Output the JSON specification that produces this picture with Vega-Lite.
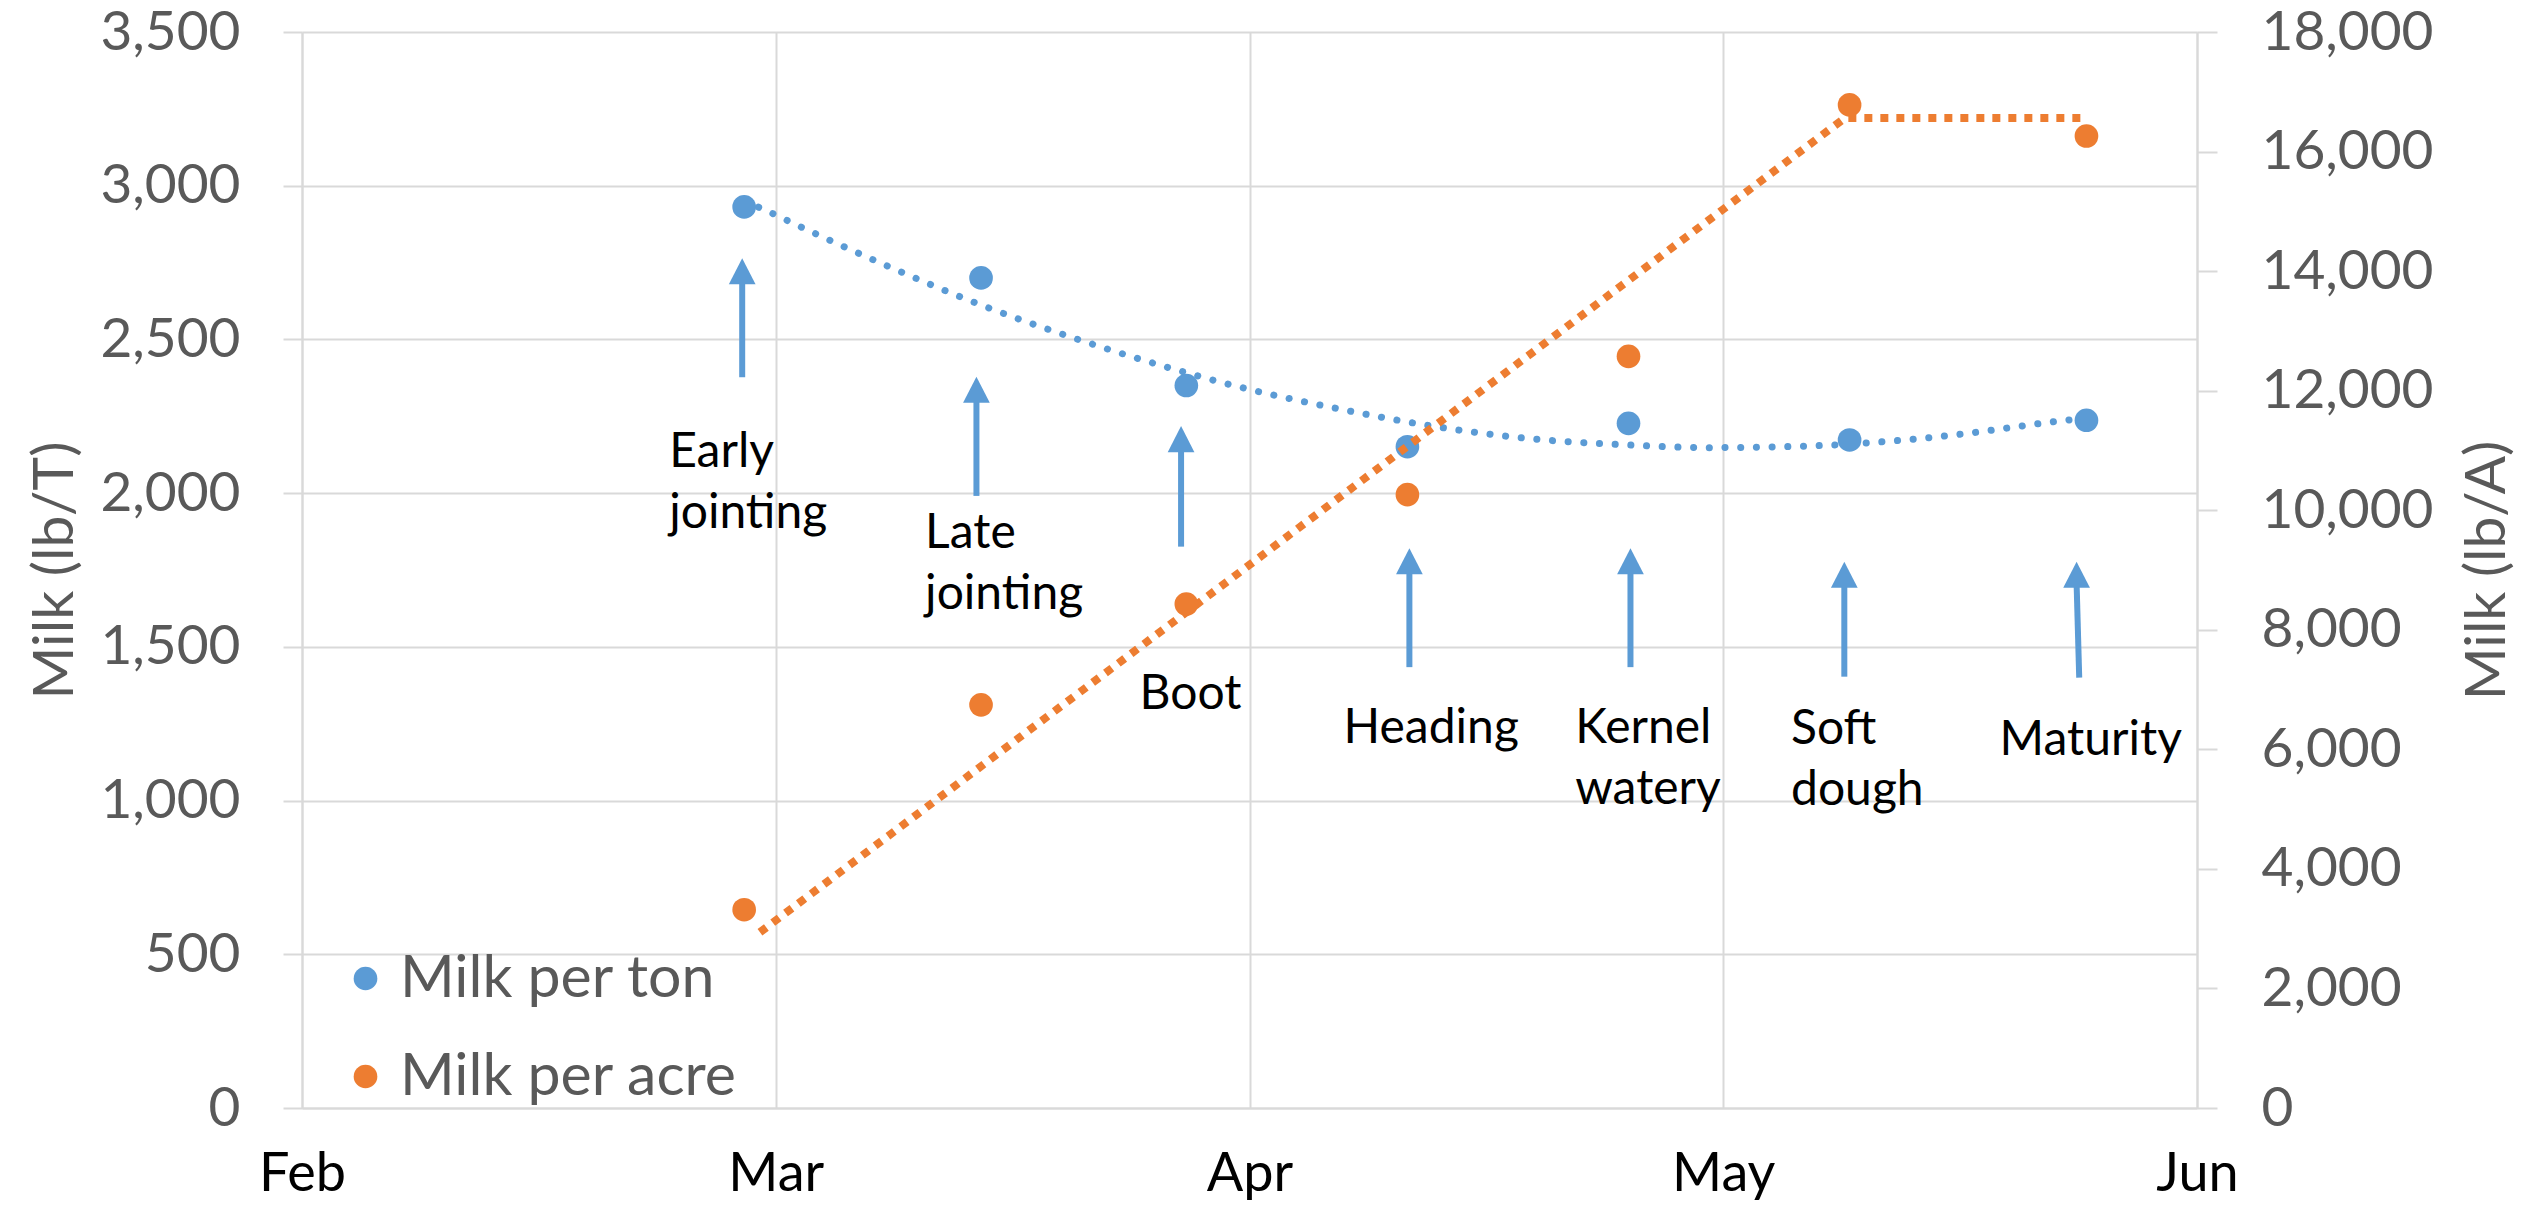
{
  "$schema": "https://vega.github.io/schema/vega-lite/v6.json",
  "width": 1895,
  "height": 1076,
  "autosize": {"type": "none"},
  "padding": {"left": 302, "top": 32, "right": 337, "bottom": 99},
  "background": "#ffffff",
  "config": {
    "view": {"stroke": null},
    "font": "Lato"
  },
  "datasets": {
    "points": [
      {"date": "2015-03-01T00:00:00Z", "series": "Milk per ton", "value": 2931},
      {"date": "2015-03-16T00:00:00Z", "series": "Milk per ton", "value": 2700},
      {"date": "2015-03-29T00:00:00Z", "series": "Milk per ton", "value": 2350},
      {"date": "2015-04-12T00:00:00Z", "series": "Milk per ton", "value": 2151},
      {"date": "2015-04-26T00:00:00Z", "series": "Milk per ton", "value": 2227},
      {"date": "2015-05-10T00:00:00Z", "series": "Milk per ton", "value": 2173},
      {"date": "2015-05-25T00:00:00Z", "series": "Milk per ton", "value": 2237},
      {"date": "2015-03-01T00:00:00Z", "series": "Milk per acre", "value": 3317},
      {"date": "2015-03-16T00:00:00Z", "series": "Milk per acre", "value": 6745},
      {"date": "2015-03-29T00:00:00Z", "series": "Milk per acre", "value": 8430},
      {"date": "2015-04-12T00:00:00Z", "series": "Milk per acre", "value": 10260},
      {"date": "2015-04-26T00:00:00Z", "series": "Milk per acre", "value": 12575},
      {"date": "2015-05-10T00:00:00Z", "series": "Milk per acre", "value": 16780},
      {"date": "2015-05-25T00:00:00Z", "series": "Milk per acre", "value": 16260}
    ],
    "tonTrend": [
      {"date": "2015-03-01T00:00:00Z", "value": 2950},
      {"date": "2015-03-01T22:00:00Z", "value": 2930},
      {"date": "2015-03-04T17:00:00Z", "value": 2863},
      {"date": "2015-03-10T08:00:00Z", "value": 2733},
      {"date": "2015-03-16T00:00:00Z", "value": 2612},
      {"date": "2015-03-21T19:00:00Z", "value": 2506},
      {"date": "2015-03-27T15:00:00Z", "value": 2412},
      {"date": "2015-04-01T15:00:00Z", "value": 2342},
      {"date": "2015-04-07T14:00:00Z", "value": 2275},
      {"date": "2015-04-13T17:00:00Z", "value": 2217},
      {"date": "2015-04-19T19:00:00Z", "value": 2177},
      {"date": "2015-04-25T22:00:00Z", "value": 2157},
      {"date": "2015-05-01T01:00:00Z", "value": 2148},
      {"date": "2015-05-08T07:00:00Z", "value": 2155},
      {"date": "2015-05-12T08:00:00Z", "value": 2168},
      {"date": "2015-05-17T10:00:00Z", "value": 2194},
      {"date": "2015-05-21T10:00:00Z", "value": 2222},
      {"date": "2015-05-23T12:00:00Z", "value": 2236},
      {"date": "2015-05-25T00:00:00Z", "value": 2244}
    ],
    "acreTrend": [
      {"date": "2015-03-02T00:00:00Z", "value": 2940},
      {"date": "2015-05-09T17:00:00Z", "value": 16563},
      {"date": "2015-05-25T00:00:00Z", "value": 16563}
    ],
    "arrows": [
      {"stage": "Early jointing", "xTop": "2015-02-28T21:00:00Z", "xBottom": "2015-02-28T21:00:00Z", "tip": 2764, "shaftTop": 2694, "bottom": 2377},
      {"stage": "Late jointing", "xTop": "2015-03-15T17:00:00Z", "xBottom": "2015-03-15T17:00:00Z", "tip": 2379, "shaftTop": 2309, "bottom": 1991},
      {"stage": "Boot", "xTop": "2015-03-28T16:00:00Z", "xBottom": "2015-03-28T16:00:00Z", "tip": 2218, "shaftTop": 2148, "bottom": 1826},
      {"stage": "Heading", "xTop": "2015-04-12T03:00:00Z", "xBottom": "2015-04-12T03:00:00Z", "tip": 1821, "shaftTop": 1751, "bottom": 1434},
      {"stage": "Kernel watery", "xTop": "2015-04-26T03:00:00Z", "xBottom": "2015-04-26T03:00:00Z", "tip": 1821, "shaftTop": 1751, "bottom": 1434},
      {"stage": "Soft dough", "xTop": "2015-05-09T16:00:00Z", "xBottom": "2015-05-09T16:00:00Z", "tip": 1777, "shaftTop": 1707, "bottom": 1403},
      {"stage": "Maturity", "xTop": "2015-05-24T09:00:00Z", "xBottom": "2015-05-24T13:00:00Z", "tip": 1777, "shaftTop": 1707, "bottom": 1400}
    ],
    "stages": [
      {"label": "Early\njointing", "date": "2015-02-24T06:00:00Z", "value": 2086},
      {"label": "Late\njointing", "date": "2015-03-12T11:00:00Z", "value": 1821},
      {"label": "Boot", "date": "2015-03-26T01:00:00Z", "value": 1297},
      {"label": "Heading", "date": "2015-04-07T23:00:00Z", "value": 1186},
      {"label": "Kernel\nwatery", "date": "2015-04-22T15:00:00Z", "value": 1186},
      {"label": "Soft\ndough", "date": "2015-05-06T07:00:00Z", "value": 1184},
      {"label": "Maturity", "date": "2015-05-19T12:00:00Z", "value": 1148}
    ]
  },
  "layer": [
    {
      "layer": [
        {
          "data": {"name": "arrows"},
          "mark": {"type": "rule", "color": "#5B9BD5", "strokeWidth": 6, "strokeCap": "butt"},
          "encoding": {
            "x": {
              "field": "xBottom", "type": "temporal",
              "scale": {"type": "utc", "nice": false, "domain": [{"year": 2015, "month": 2, "date": 1, "utc": true}, {"year": 2015, "month": 6, "date": 1, "utc": true}]},
              "axis": {
                "values": [
                  {"year": 2015, "month": 2, "date": 1, "utc": true},
                  {"year": 2015, "month": 3, "date": 3, "utc": true},
                  {"year": 2015, "month": 4, "date": 2, "utc": true},
                  {"year": 2015, "month": 5, "date": 2, "utc": true},
                  {"year": 2015, "month": 6, "date": 1, "utc": true}
                ],
                "format": "%b",
                "title": null,
                "labelFont": "Lato",
                "labelFontSize": 54,
                "labelColor": "#000000",
                "labelFlush": false,
                "labelOverlap": false,
                "labelBaseline": "alphabetic",
                "labelPadding": 82,
                "ticks": true,
                "tickSize": 0,
                "tickWidth": 0,
                "grid": true,
                "gridColor": "#D9D9D9",
                "gridWidth": 2,
                "domain": true,
                "domainColor": "#D9D9D9",
                "domainWidth": 2
              }
            },
            "x2": {"field": "xTop"},
            "y": {
              "field": "bottom", "type": "quantitative", "title": "Milk (lb/T)",
              "scale": {"domain": [0, 3500], "nice": false, "zero": true},
              "axis": {
                "orient": "left",
                "values": [0, 500, 1000, 1500, 2000, 2500, 3000, 3500],
                "format": ",d",
                "labelFont": "Lato",
                "labelFontSize": 55,
                "labelColor": "#595959",
                "labelPadding": 43,
                "labelOverlap": false,
                "tickSize": 19,
                "tickColor": "#D9D9D9",
                "tickWidth": 2,
                "domainColor": "#D9D9D9",
                "domainWidth": 2,
                "grid": true,
                "gridColor": "#D9D9D9",
                "gridWidth": 2,
                "title": "Milk (lb/T)",
                "titleFont": "Lato",
                "titleFontSize": 57,
                "titleFontWeight": "normal",
                "titleColor": "#595959",
                "titleAngle": 270,
                "titleAlign": "center",
                "titleBaseline": "alphabetic",
                "titleX": -230,
                "titleY": 538
              }
            },
            "y2": {"field": "shaftTop"}
          }
        },
        {
          "data": {"name": "arrows"},
          "mark": {"type": "point", "shape": "M0,0L-1,1.95L1,1.95Z", "size": 713, "filled": true, "color": "#5B9BD5", "opacity": 1, "strokeWidth": 0},
          "encoding": {
            "x": {"field": "xTop", "type": "temporal", "scale": {"type": "utc", "nice": false, "domain": [{"year": 2015, "month": 2, "date": 1, "utc": true}, {"year": 2015, "month": 6, "date": 1, "utc": true}]}},
            "y": {"field": "tip", "type": "quantitative", "title": "Milk (lb/T)", "scale": {"domain": [0, 3500], "nice": false, "zero": true}}
          }
        },
        {
          "data": {"name": "stages"},
          "mark": {"type": "text", "align": "left", "baseline": "alphabetic", "font": "Lato", "fontSize": 48, "lineHeight": 61, "lineBreak": "\n", "color": "#000000"},
          "encoding": {
            "x": {"field": "date", "type": "temporal", "scale": {"type": "utc", "nice": false, "domain": [{"year": 2015, "month": 2, "date": 1, "utc": true}, {"year": 2015, "month": 6, "date": 1, "utc": true}]}},
            "y": {"field": "value", "type": "quantitative", "title": "Milk (lb/T)", "scale": {"domain": [0, 3500], "nice": false, "zero": true}},
            "text": {"field": "label", "type": "nominal"}
          }
        },
        {
          "data": {"name": "tonTrend"},
          "mark": {"type": "line", "color": "#5B9BD5", "strokeWidth": 7, "strokeDash": [0.1, 15.6], "strokeCap": "round", "interpolate": "monotone"},
          "encoding": {
            "x": {"field": "date", "type": "temporal", "scale": {"type": "utc", "nice": false, "domain": [{"year": 2015, "month": 2, "date": 1, "utc": true}, {"year": 2015, "month": 6, "date": 1, "utc": true}]}},
            "y": {"field": "value", "type": "quantitative", "title": "Milk (lb/T)", "scale": {"domain": [0, 3500], "nice": false, "zero": true}}
          }
        },
        {
          "data": {"name": "points"},
          "transform": [{"filter": "datum.series === 'Milk per ton'"}],
          "mark": {"type": "point", "shape": "circle", "filled": true, "size": 560, "opacity": 1, "strokeWidth": 0},
          "encoding": {
            "x": {"field": "date", "type": "temporal", "scale": {"type": "utc", "nice": false, "domain": [{"year": 2015, "month": 2, "date": 1, "utc": true}, {"year": 2015, "month": 6, "date": 1, "utc": true}]}},
            "y": {"field": "value", "type": "quantitative", "title": "Milk (lb/T)", "scale": {"domain": [0, 3500], "nice": false, "zero": true}},
            "color": {
              "field": "series", "type": "nominal",
              "scale": {"domain": ["Milk per ton", "Milk per acre"], "range": ["#5B9BD5", "#ED7D31"]},
              "legend": {
                "orient": "none",
                "legendX": 34,
                "legendY": 917,
                "title": null,
                "padding": 0,
                "labelFont": "Lato",
                "labelFontSize": 59,
                "labelColor": "#595959",
                "labelLimit": 0,
                "labelOffset": 5,
                "rowPadding": 38,
                "symbolType": "circle",
                "symbolSize": 560,
                "symbolStrokeWidth": 0,
                "symbolOpacity": 1
              }
            }
          }
        }
      ]
    },
    {
      "layer": [
        {
          "data": {"name": "acreTrend"},
          "mark": {"type": "line", "color": "#ED7D31", "strokeWidth": 8, "strokeDash": [8, 8], "strokeCap": "butt", "interpolate": "linear"},
          "encoding": {
            "x": {"field": "date", "type": "temporal", "scale": {"type": "utc", "nice": false, "domain": [{"year": 2015, "month": 2, "date": 1, "utc": true}, {"year": 2015, "month": 6, "date": 1, "utc": true}]}},
            "y": {
              "field": "value", "type": "quantitative", "title": "Milk (lb/A)",
              "scale": {"domain": [0, 18000], "nice": false, "zero": true},
              "axis": {
                "orient": "right",
                "values": [0, 2000, 4000, 6000, 8000, 10000, 12000, 14000, 16000, 18000],
                "format": ",d",
                "labelFont": "Lato",
                "labelFontSize": 55,
                "labelColor": "#595959",
                "labelPadding": 44,
                "labelOverlap": false,
                "tickSize": 20,
                "tickColor": "#D9D9D9",
                "tickWidth": 2,
                "domainColor": "#D9D9D9",
                "domainWidth": 2,
                "grid": false,
                "title": "Milk (lb/A)",
                "titleFont": "Lato",
                "titleFontSize": 57,
                "titleFontWeight": "normal",
                "titleColor": "#595959",
                "titleAngle": 270,
                "titleAlign": "center",
                "titleBaseline": "alphabetic",
                "titleX": 307,
                "titleY": 538
              }
            }
          }
        },
        {
          "data": {"name": "points"},
          "transform": [{"filter": "datum.series === 'Milk per acre'"}],
          "mark": {"type": "point", "shape": "circle", "filled": true, "size": 560, "opacity": 1, "strokeWidth": 0},
          "encoding": {
            "x": {"field": "date", "type": "temporal", "scale": {"type": "utc", "nice": false, "domain": [{"year": 2015, "month": 2, "date": 1, "utc": true}, {"year": 2015, "month": 6, "date": 1, "utc": true}]}},
            "y": {"field": "value", "type": "quantitative", "title": "Milk (lb/A)", "scale": {"domain": [0, 18000], "nice": false, "zero": true}},
            "color": {"field": "series", "type": "nominal", "scale": {"domain": ["Milk per ton", "Milk per acre"], "range": ["#5B9BD5", "#ED7D31"]}}
          }
        }
      ]
    }
  ],
  "resolve": {"scale": {"y": "independent"}}
}
